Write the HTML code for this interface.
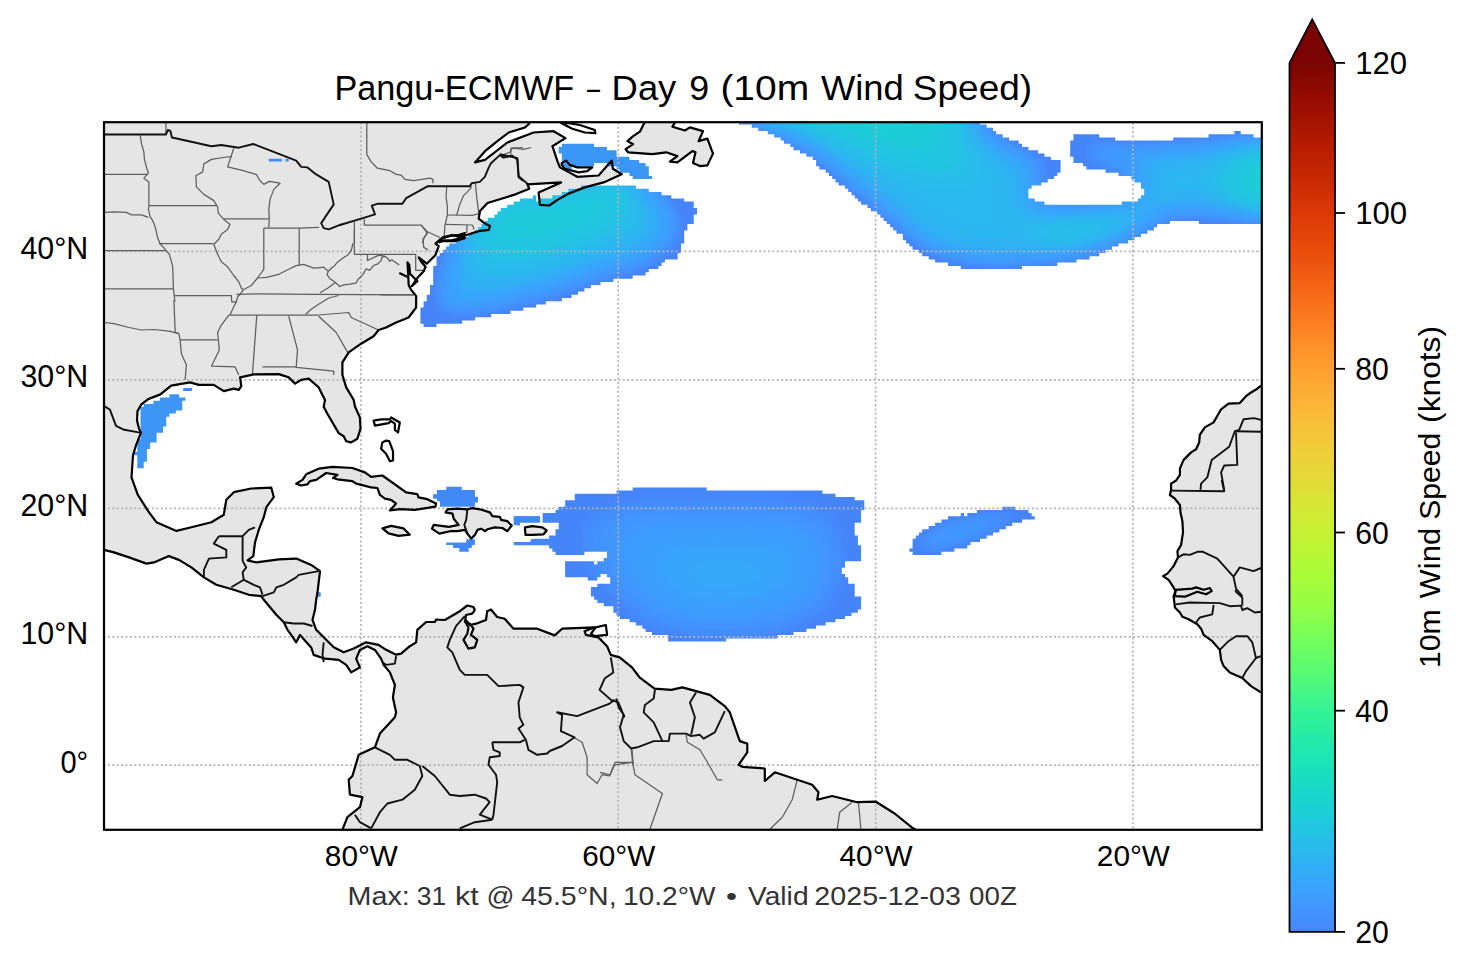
<!DOCTYPE html>
<html><head><meta charset="utf-8"><style>
html,body{margin:0;padding:0;background:#fff;width:1466px;height:969px;overflow:hidden}
svg{display:block}
text{font-family:"Liberation Sans",sans-serif}
</style></head><body>
<svg width="1466" height="969" viewBox="0 0 1466 969">
<defs>
<linearGradient id="cb" gradientUnits="userSpaceOnUse" x1="0" y1="62.9" x2="0" y2="931.9"><stop offset="0.000" stop-color="#7a0403"/><stop offset="0.025" stop-color="#8b0902"/><stop offset="0.050" stop-color="#9b0f01"/><stop offset="0.075" stop-color="#a91601"/><stop offset="0.100" stop-color="#b91e02"/><stop offset="0.125" stop-color="#c52603"/><stop offset="0.150" stop-color="#d02f05"/><stop offset="0.175" stop-color="#dc3b07"/><stop offset="0.200" stop-color="#e4450a"/><stop offset="0.225" stop-color="#eb500e"/><stop offset="0.250" stop-color="#f26014"/><stop offset="0.275" stop-color="#f76f1a"/><stop offset="0.300" stop-color="#fb7e21"/><stop offset="0.325" stop-color="#fe9029"/><stop offset="0.350" stop-color="#fe9e2f"/><stop offset="0.375" stop-color="#fdac34"/><stop offset="0.400" stop-color="#fbb838"/><stop offset="0.425" stop-color="#f5c53a"/><stop offset="0.450" stop-color="#eecf3a"/><stop offset="0.475" stop-color="#e5d938"/><stop offset="0.500" stop-color="#d9e436"/><stop offset="0.525" stop-color="#cdec34"/><stop offset="0.550" stop-color="#c1f334"/><stop offset="0.575" stop-color="#b1f936"/><stop offset="0.600" stop-color="#a4fc3c"/><stop offset="0.625" stop-color="#96fe44"/><stop offset="0.650" stop-color="#80ff53"/><stop offset="0.675" stop-color="#6dfe62"/><stop offset="0.700" stop-color="#59fb73"/><stop offset="0.725" stop-color="#43f787"/><stop offset="0.750" stop-color="#32f298"/><stop offset="0.775" stop-color="#25eca7"/><stop offset="0.800" stop-color="#1ce6b4"/><stop offset="0.825" stop-color="#18ddc2"/><stop offset="0.850" stop-color="#1ad4d0"/><stop offset="0.875" stop-color="#1fc9dd"/><stop offset="0.900" stop-color="#28bceb"/><stop offset="0.925" stop-color="#31aff5"/><stop offset="0.950" stop-color="#3aa3fc"/><stop offset="0.975" stop-color="#4294ff"/><stop offset="1.000" stop-color="#4687fb"/></linearGradient>
<clipPath id="ax"><rect x="103.5" y="122.4" width="1158.2" height="706.9"/></clipPath>
</defs>
<rect width="1466" height="969" fill="#fff"/>
<g clip-path="url(#ax)">
<g fill="#e5e5e5" stroke="none"><polygon points="1270.0,380.0 1261.0,385.6 1257.3,388.7 1251.0,392.5 1246.0,396.2 1239.8,403.1 1228.5,403.7 1221.1,409.3 1213.6,422.4 1204.8,427.4 1199.8,434.9 1199.2,442.4 1196.1,449.3 1191.1,452.4 1183.6,459.9 1179.9,468.6 1179.9,474.9 1176.1,480.5 1171.1,483.6 1171.1,489.8 1169.9,495.0 1174.9,498.7 1179.9,505.0 1180.5,512.5 1182.4,521.2 1183.0,532.4 1181.1,544.9 1177.4,551.2 1178.0,557.4 1173.6,566.1 1167.4,573.6 1163.0,576.1 1168.6,579.9 1173.6,587.4 1175.5,591.1 1173.6,596.1 1174.9,607.5 1179.9,612.5 1182.4,616.8 1188.6,619.3 1197.3,624.3 1201.1,628.7 1203.6,634.9 1212.3,641.2 1219.8,649.9 1221.1,659.9 1223.6,666.1 1229.8,672.4 1242.3,678.0 1251.0,686.1 1261.0,692.4 1270.0,700.0"/><polygon points="100.0,118.0 530.0,118.0 529.9,123.1 524.9,127.5 508.7,132.5 497.4,141.2 485.0,151.2 475.0,162.4 485.0,159.9 507.4,142.5 533.6,132.5 553.6,131.2 565.5,138.1 552.4,146.2 557.4,161.2 559.9,167.4 577.3,176.8 598.6,175.5 611.7,160.6 612.9,168.7 621.7,174.3 603.6,182.4 584.8,187.4 568.6,193.6 557.4,199.9 549.3,205.5 539.9,204.9 538.6,192.4 561.1,182.4 527.4,184.3 529.3,188.7 513.7,194.9 487.5,203.0 480.0,211.1 478.7,218.6 485.0,223.6 490.0,226.1 488.7,229.8 478.7,231.1 460.0,237.3 452.3,235.0 441.1,238.7 439.3,240.6 435.5,243.7 438.7,246.2 435.5,254.9 426.8,263.7 418.7,257.4 421.2,261.8 425.6,266.8 423.7,271.2 417.4,278.0 411.8,286.1 417.4,281.2 410.0,273.7 409.3,264.9 407.5,262.4 408.1,272.4 408.7,284.9 411.2,289.9 416.2,296.1 416.1,307.5 408.6,317.5 396.1,322.5 386.1,327.5 378.6,330.0 373.6,336.2 361.1,343.7 348.7,352.4 342.4,362.4 342.4,374.9 346.2,387.4 353.7,399.9 354.9,406.2 359.9,417.5 360.5,428.7 357.4,438.7 351.2,442.4 346.2,441.2 343.7,436.2 338.7,433.1 327.4,413.7 323.7,406.9 325.0,400.0 318.7,387.4 308.7,378.6 301.2,379.9 295.0,383.6 288.7,377.4 278.8,374.1 253.8,374.4 240.1,377.4 241.3,386.1 238.8,389.9 233.8,388.6 223.8,391.1 213.8,384.9 198.9,384.9 189.9,382.4 171.2,385.6 160.4,394.4 148.2,399.1 141.4,404.4 137.5,411.1 137.0,420.6 139.0,428.6 140.9,432.6 136.2,444.8 133.0,455.3 132.0,470.0 131.5,477.3 137.7,494.7 148.9,512.2 156.4,522.2 176.4,530.9 191.4,527.2 211.4,522.2 223.8,514.7 226.3,499.7 233.8,492.2 251.3,488.5 271.3,487.7 273.8,497.2 266.3,507.2 263.8,517.2 258.8,529.7 255.0,542.4 253.3,556.1 247.6,560.4 256.3,562.4 278.8,559.4 296.2,558.6 311.2,564.9 320.0,571.1 318.7,582.3 317.5,592.3 316.2,599.8 315.0,609.8 312.5,619.8 316.2,629.8 328.7,642.3 333.7,647.3 343.7,652.3 353.7,648.5 366.1,642.3 378.6,644.8 386.1,649.8 396.1,654.7 401.1,653.7 409.8,646.2 416.1,642.4 417.3,629.9 426.1,622.0 434.8,622.0 436.1,619.5 444.8,620.0 459.8,611.2 467.3,605.5 473.5,607.0 474.8,610.0 472.3,613.7 466.0,615.0 465.3,619.5 469.8,625.0 476.0,623.7 486.0,620.0 487.2,611.2 491.0,609.5 497.2,617.0 504.7,618.7 513.5,628.7 537.2,628.7 554.7,635.4 562.1,628.7 594.6,627.4 584.6,631.2 585.9,634.9 598.3,637.4 607.1,646.2 610.8,654.9 619.6,657.4 632.0,667.4 639.5,677.4 654.5,688.6 671.2,689.9 682.4,687.4 709.8,694.9 724.8,706.1 729.8,712.3 739.8,741.1 747.3,743.6 747.3,752.3 738.6,764.8 742.3,766.8 764.8,768.5 764.8,781.0 774.8,772.3 812.2,784.7 818.5,792.2 817.2,799.7 832.2,796.0 857.1,802.2 875.9,801.7 894.6,813.5 912.1,827.7 918.3,830.9 920.0,840.0 340.0,840.0 342.4,829.7 347.4,817.2 359.9,807.2 362.4,797.2 349.9,794.7 348.7,779.7 352.4,776.0 358.7,754.8 374.9,747.3 379.9,733.6 394.9,717.3 396.1,712.3 392.9,697.4 394.9,684.9 389.9,672.4 383.6,664.9 381.1,658.7 374.9,649.9 367.4,646.2 359.9,649.9 356.2,658.7 359.9,667.4 351.2,672.4 346.2,664.9 338.7,659.9 325.0,658.7 313.7,654.9 311.2,647.4 300.0,634.9 296.2,642.3 291.2,634.8 287.5,629.8 283.8,622.3 276.3,614.8 263.8,599.8 261.3,596.1 248.8,594.8 233.8,589.8 216.3,584.8 203.9,577.4 191.4,567.4 178.9,559.9 168.9,556.1 153.9,562.4 146.4,563.6 129.0,557.4 114.0,552.4 104.0,549.9 100.0,550.0"/><polygon points="644.9,121.7 639.9,131.7 632.5,136.7 627.5,141.1 633.1,144.2 625.6,149.2 628.1,152.3 652.4,154.2 666.2,152.3 677.4,156.1 669.9,161.7 677.4,162.3 692.4,151.1 695.5,152.3 693.0,162.9 699.9,166.1 707.4,165.4 713.0,153.6 707.4,138.6 698.6,141.1 703.0,131.1 689.9,127.4 684.9,130.5 672.4,126.7 675.5,121.7"/><polygon points="382.4,528.4 391.1,525.9 403.6,528.4 409.8,534.7 398.6,535.9 388.6,533.4"/><polygon points="296.2,483.6 302.5,479.9 306.2,474.3 318.7,468.7 332.4,466.8 352.4,468.0 364.9,472.4 371.1,476.8 382.4,475.5 406.1,492.4 417.3,494.2 418.6,497.4 427.3,499.2 436.1,503.6 435.4,506.7 414.8,509.8 399.8,509.2 389.9,510.5 396.1,503.6 391.1,499.9 384.9,498.6 379.9,494.9 377.4,488.0 371.1,487.4 356.2,483.6 352.4,481.1 337.4,479.3 333.1,478.0 337.4,474.9 326.2,473.0 316.2,479.9 310.0,481.1 307.5,484.3 301.2,485.5"/><polygon points="445.6,512.4 447.5,509.3 457.4,508.7 467.4,509.3 472.4,508.1 479.9,509.3 489.9,512.4 492.4,516.2 499.9,516.8 501.1,519.9 507.4,521.2 511.7,525.5 507.4,531.2 502.4,528.0 494.9,527.4 487.4,529.3 484.9,531.2 481.2,528.7 477.4,529.9 474.9,534.9 471.2,538.6 467.4,533.6 464.9,529.9 457.4,531.2 450.0,531.2 439.3,533.6 431.9,528.7 433.7,524.9 448.7,526.8 458.7,524.9 453.7,518.7 452.5,513.7"/><polygon points="524.9,527.4 532.3,526.2 542.3,527.4 546.7,530.5 543.6,534.3 532.3,534.9 525.5,534.9"/></g><defs><filter id="bl" x="-50%" y="-50%" width="200%" height="200%"><feGaussianBlur stdDeviation="28"/></filter><filter id="bl2" x="-50%" y="-50%" width="200%" height="200%"><feGaussianBlur stdDeviation="14"/></filter><clipPath id="c_ne"><path fill-rule="evenodd" clip-rule="evenodd" d="M436.5,265.9 L433.2,265.9 L433.2,285.1 L430.0,285.1 L430.0,294.8 L426.8,294.8 L426.8,301.2 L423.6,301.2 L423.6,307.6 L420.4,307.6 L420.4,323.7 L423.6,323.7 L423.6,326.9 L436.5,326.9 L436.5,323.7 L462.2,323.7 L462.2,320.4 L475.1,320.4 L475.1,317.2 L491.1,317.2 L491.1,314.0 L510.5,314.0 L510.5,310.8 L523.3,310.8 L523.3,307.6 L536.2,307.6 L536.2,304.4 L545.8,304.4 L545.8,301.2 L561.9,301.2 L561.9,298.0 L571.6,298.0 L571.6,294.8 L578.0,294.8 L578.0,291.5 L584.4,291.5 L584.4,288.3 L590.9,288.3 L590.9,285.1 L600.5,285.1 L600.5,281.9 L613.4,281.9 L613.4,278.7 L632.7,278.7 L632.7,275.5 L645.6,275.5 L645.6,272.3 L648.8,272.3 L648.8,269.1 L658.4,269.1 L658.4,265.9 L661.6,265.9 L661.6,262.6 L664.9,262.6 L664.9,259.4 L677.7,259.4 L677.7,253.0 L681.0,253.0 L681.0,243.4 L684.2,243.4 L684.2,230.5 L687.4,230.5 L687.4,224.1 L693.8,224.1 L693.8,214.5 L697.0,214.5 L697.0,208.0 L693.8,208.0 L693.8,201.6 L684.2,201.6 L684.2,198.4 L671.3,198.4 L671.3,195.2 L661.6,195.2 L661.6,192.0 L648.8,192.0 L648.8,188.8 L635.9,188.8 L635.9,185.6 L581.2,185.6 L581.2,188.8 L568.4,188.8 L568.4,192.0 L561.9,192.0 L561.9,195.2 L552.3,195.2 L552.3,198.4 L539.4,198.4 L539.4,201.6 L536.2,201.6 L536.2,195.2 L533.0,195.2 L533.0,198.4 L520.1,198.4 L520.1,201.6 L513.7,201.6 L513.7,204.8 L507.2,204.8 L507.2,208.0 L500.8,208.0 L500.8,211.3 L497.6,211.3 L497.6,214.5 L494.4,214.5 L494.4,217.7 L487.9,217.7 L487.9,220.9 L484.7,220.9 L484.7,224.1 L481.5,224.1 L481.5,227.3 L478.3,227.3 L478.3,230.5 L475.1,230.5 L475.1,233.7 L468.6,233.7 L468.6,236.9 L462.2,236.9 L462.2,240.2 L455.8,240.2 L455.8,243.4 L449.3,243.4 L449.3,246.6 L446.1,246.6 L446.1,249.8 L442.9,249.8 L442.9,253.0 L439.7,253.0 L439.7,256.2 L436.5,256.2Z"/></clipPath><clipPath id="c_tr"><path fill-rule="evenodd" clip-rule="evenodd" d="M738.9,102.1 L738.9,124.6 L751.7,124.6 L751.7,127.8 L758.2,127.8 L758.2,131.0 L767.8,131.0 L767.8,134.2 L774.2,134.2 L774.2,137.4 L780.7,137.4 L780.7,140.6 L783.9,140.6 L783.9,143.8 L790.3,143.8 L790.3,147.0 L793.5,147.0 L793.5,150.2 L800.0,150.2 L800.0,153.5 L806.4,153.5 L806.4,156.7 L812.8,156.7 L812.8,159.9 L816.1,159.9 L816.1,166.3 L819.3,166.3 L819.3,169.5 L825.7,169.5 L825.7,172.7 L828.9,172.7 L828.9,175.9 L832.2,175.9 L832.2,179.1 L835.4,179.1 L835.4,182.4 L838.6,182.4 L838.6,185.6 L845.0,185.6 L845.0,188.8 L848.2,188.8 L848.2,192.0 L851.5,192.0 L851.5,195.2 L854.7,195.2 L854.7,198.4 L857.9,198.4 L857.9,201.6 L861.1,201.6 L861.1,204.8 L867.5,204.8 L867.5,208.0 L870.8,208.0 L870.8,211.3 L877.2,211.3 L877.2,214.5 L880.4,214.5 L880.4,217.7 L883.6,217.7 L883.6,220.9 L886.8,220.9 L886.8,224.1 L890.1,224.1 L890.1,227.3 L893.3,227.3 L893.3,230.5 L896.5,230.5 L896.5,233.7 L902.9,233.7 L902.9,240.2 L906.1,240.2 L906.1,243.4 L909.4,243.4 L909.4,246.6 L912.6,246.6 L912.6,249.8 L919.0,249.8 L919.0,253.0 L922.2,253.0 L922.2,256.2 L928.7,256.2 L928.7,259.4 L935.1,259.4 L935.1,262.6 L948.0,262.6 L948.0,265.9 L960.8,265.9 L960.8,269.1 L1022.0,269.1 L1022.0,265.9 L1057.3,265.9 L1057.3,262.6 L1076.6,262.6 L1076.6,259.4 L1089.5,259.4 L1089.5,256.2 L1099.2,256.2 L1099.2,253.0 L1105.6,253.0 L1105.6,249.8 L1112.0,249.8 L1112.0,246.6 L1118.5,246.6 L1118.5,243.4 L1128.1,243.4 L1128.1,240.2 L1134.5,240.2 L1134.5,236.9 L1141.0,236.9 L1141.0,233.7 L1147.4,233.7 L1147.4,230.5 L1153.9,230.5 L1153.9,227.3 L1157.1,227.3 L1157.1,224.1 L1169.9,224.1 L1169.9,220.9 L1198.9,220.9 L1198.9,224.1 L1266.4,224.1 L1266.4,137.4 L1253.6,137.4 L1253.6,134.2 L1240.7,134.2 L1240.7,131.0 L1234.3,131.0 L1234.3,134.2 L1208.5,134.2 L1208.5,137.4 L1173.2,137.4 L1173.2,140.6 L1115.2,140.6 L1115.2,137.4 L1099.2,137.4 L1099.2,134.2 L1073.4,134.2 L1073.4,140.6 L1070.2,140.6 L1070.2,156.7 L1073.4,156.7 L1073.4,163.1 L1083.1,163.1 L1083.1,166.3 L1086.3,166.3 L1086.3,169.5 L1105.6,169.5 L1105.6,172.7 L1118.5,172.7 L1118.5,175.9 L1131.3,175.9 L1131.3,179.1 L1134.5,179.1 L1134.5,182.4 L1141.0,182.4 L1141.0,188.8 L1144.2,188.8 L1144.2,195.2 L1141.0,195.2 L1141.0,198.4 L1137.8,198.4 L1137.8,201.6 L1121.7,201.6 L1121.7,204.8 L1044.5,204.8 L1044.5,201.6 L1034.8,201.6 L1034.8,198.4 L1028.4,198.4 L1028.4,188.8 L1031.6,188.8 L1031.6,185.6 L1041.3,185.6 L1041.3,182.4 L1047.7,182.4 L1047.7,179.1 L1054.1,179.1 L1054.1,175.9 L1057.3,175.9 L1057.3,172.7 L1060.6,172.7 L1060.6,159.9 L1050.9,159.9 L1050.9,156.7 L1044.5,156.7 L1044.5,153.5 L1038.0,153.5 L1038.0,150.2 L1028.4,150.2 L1028.4,147.0 L1022.0,147.0 L1022.0,143.8 L1018.7,143.8 L1018.7,140.6 L1009.1,140.6 L1009.1,137.4 L1002.7,137.4 L1002.7,134.2 L996.2,134.2 L996.2,131.0 L993.0,131.0 L993.0,127.8 L986.6,127.8 L986.6,124.6 L980.1,124.6 L980.1,121.3 L976.9,121.3 L976.9,102.1Z"/></clipPath><clipPath id="c_car"><path fill-rule="evenodd" clip-rule="evenodd" d="M558.7,509.9 L555.5,509.9 L555.5,513.1 L542.6,513.1 L542.6,522.8 L558.7,522.8 L558.7,529.2 L555.5,529.2 L555.5,535.6 L549.1,535.6 L549.1,538.8 L533.0,538.8 L533.0,542.0 L513.7,542.0 L513.7,545.2 L549.1,545.2 L549.1,548.4 L552.3,548.4 L552.3,551.7 L555.5,551.7 L555.5,554.9 L584.4,554.9 L584.4,551.7 L607.0,551.7 L607.0,558.1 L603.7,558.1 L603.7,561.3 L597.3,561.3 L597.3,564.5 L594.1,564.5 L594.1,561.3 L565.1,561.3 L565.1,577.3 L587.7,577.3 L587.7,580.6 L597.3,580.6 L597.3,577.3 L600.5,577.3 L600.5,574.1 L607.0,574.1 L607.0,577.3 L610.2,577.3 L610.2,583.8 L597.3,583.8 L597.3,587.0 L590.9,587.0 L590.9,596.6 L594.1,596.6 L594.1,599.8 L597.3,599.8 L597.3,603.0 L603.7,603.0 L603.7,606.2 L613.4,606.2 L613.4,612.7 L616.6,612.7 L616.6,615.9 L619.8,615.9 L619.8,619.1 L629.5,619.1 L629.5,622.3 L635.9,622.3 L635.9,625.5 L642.3,625.5 L642.3,628.7 L645.6,628.7 L645.6,631.9 L652.0,631.9 L652.0,635.1 L668.1,635.1 L668.1,641.6 L726.0,641.6 L726.0,638.4 L777.5,638.4 L777.5,635.1 L793.5,635.1 L793.5,631.9 L806.4,631.9 L806.4,628.7 L816.1,628.7 L816.1,625.5 L825.7,625.5 L825.7,622.3 L835.4,622.3 L835.4,619.1 L845.0,619.1 L845.0,615.9 L851.5,615.9 L851.5,612.7 L857.9,612.7 L857.9,609.5 L861.1,609.5 L861.1,596.6 L854.7,596.6 L854.7,583.8 L848.2,583.8 L848.2,577.3 L845.0,577.3 L845.0,574.1 L841.8,574.1 L841.8,567.7 L845.0,567.7 L845.0,561.3 L861.1,561.3 L861.1,545.2 L857.9,545.2 L857.9,535.6 L854.7,535.6 L854.7,522.8 L861.1,522.8 L861.1,509.9 L864.3,509.9 L864.3,500.3 L854.7,500.3 L854.7,497.1 L835.4,497.1 L835.4,493.8 L822.5,493.8 L822.5,490.6 L706.7,490.6 L706.7,487.4 L632.7,487.4 L632.7,490.6 L616.6,490.6 L616.6,493.8 L574.8,493.8 L574.8,500.3 L565.1,500.3 L565.1,506.7 L558.7,506.7Z"/></clipPath><clipPath id="c_car2"><polygon points="513.7,516.2 539.9,516.2 539.9,522.4 520.0,522.4 520.0,524.9 513.7,524.9"/></clipPath><clipPath id="c_hn"><polygon points="433.1,494.3 436.9,494.3 436.9,490.0 446.2,490.0 446.2,486.8 461.8,486.8 461.8,490.0 474.9,490.0 474.9,496.8 478.0,496.8 478.0,502.4 474.9,502.4 474.9,506.8 440.0,506.8 440.0,501.2 436.9,501.2 436.9,498.7 433.1,498.7"/></clipPath><clipPath id="c_hs"><polygon points="446.2,542.4 466.2,542.4 466.2,539.3 474.9,539.3 474.9,544.9 471.8,544.9 471.8,548.0 468.7,548.0 468.7,551.7 459.3,551.7 459.3,548.0 453.1,548.0 453.1,544.9 446.2,544.9"/></clipPath><clipPath id="c_he"><polygon points="514.2,516.2 539.8,516.2 539.8,522.4 519.9,522.4 519.9,525.5 517.4,525.5 517.4,522.4 514.2,522.4"/></clipPath><clipPath id="c_hl"><polygon points="514.2,542.4 530.5,542.4 530.5,539.3 539.8,539.3 539.8,542.4 544.8,542.4 544.8,544.9 514.2,544.9"/></clipPath><clipPath id="c_mid"><path fill-rule="evenodd" clip-rule="evenodd" d="M919.0,535.6 L915.8,535.6 L915.8,538.8 L912.6,538.8 L912.6,548.4 L909.4,548.4 L909.4,551.7 L912.6,551.7 L912.6,554.9 L941.5,554.9 L941.5,551.7 L954.4,551.7 L954.4,548.4 L967.3,548.4 L967.3,545.2 L970.5,545.2 L970.5,542.0 L980.1,542.0 L980.1,538.8 L986.6,538.8 L986.6,535.6 L993.0,535.6 L993.0,532.4 L999.4,532.4 L999.4,529.2 L1005.9,529.2 L1005.9,526.0 L1012.3,526.0 L1012.3,522.8 L1022.0,522.8 L1022.0,519.5 L1034.8,519.5 L1034.8,516.3 L1031.6,516.3 L1031.6,513.1 L1028.4,513.1 L1028.4,509.9 L1015.5,509.9 L1015.5,506.7 L1002.7,506.7 L1002.7,509.9 L976.9,509.9 L976.9,513.1 L967.3,513.1 L967.3,516.3 L964.0,516.3 L964.0,513.1 L960.8,513.1 L960.8,516.3 L948.0,516.3 L948.0,519.5 L941.5,519.5 L941.5,522.8 L935.1,522.8 L935.1,526.0 L928.7,526.0 L928.7,529.2 L922.2,529.2 L922.2,532.4 L919.0,532.4Z"/></clipPath><clipPath id="c_gulf"><path fill-rule="evenodd" clip-rule="evenodd" d="M140.5,439.3 L137.3,439.3 L137.3,452.1 L134.1,452.1 L134.1,455.3 L137.3,455.3 L137.3,468.2 L143.7,468.2 L143.7,461.7 L146.9,461.7 L146.9,448.9 L150.1,448.9 L150.1,442.5 L156.6,442.5 L156.6,432.8 L163.0,432.8 L163.0,426.4 L166.2,426.4 L166.2,416.8 L169.4,416.8 L169.4,413.6 L175.9,413.6 L175.9,410.4 L182.3,410.4 L182.3,400.7 L185.5,400.7 L185.5,397.5 L179.1,397.5 L179.1,394.3 L169.4,394.3 L169.4,397.5 L159.8,397.5 L159.8,400.7 L153.4,400.7 L153.4,403.9 L143.7,403.9 L143.7,407.1 L140.5,407.1Z"/></clipPath><clipPath id="c_gulfdash"><polygon points="183.2,388.0 192.0,388.0 192.0,391.0 183.2,391.0"/></clipPath><clipPath id="c_sl"><path fill-rule="evenodd" clip-rule="evenodd" d="M561.9,143.8 L561.9,147.0 L558.7,147.0 L558.7,153.5 L561.9,153.5 L561.9,166.3 L565.1,166.3 L565.1,169.5 L571.6,169.5 L571.6,166.3 L594.1,166.3 L594.1,163.1 L607.0,163.1 L607.0,166.3 L616.6,166.3 L616.6,169.5 L619.8,169.5 L619.8,172.7 L629.5,172.7 L629.5,175.9 L632.7,175.9 L632.7,179.1 L652.0,179.1 L652.0,175.9 L648.8,175.9 L648.8,166.3 L645.6,166.3 L645.6,163.1 L639.1,163.1 L639.1,159.9 L629.5,159.9 L629.5,156.7 L616.6,156.7 L616.6,150.2 L607.0,150.2 L607.0,147.0 L594.1,147.0 L594.1,143.8Z"/></clipPath><clipPath id="c_sup"><polygon points="268.8,158.7 281.8,158.7 281.8,161.4 268.8,161.4"/></clipPath><clipPath id="c_sup2"><polygon points="285.5,158.7 288.7,158.7 288.7,161.4 285.5,161.4"/></clipPath><clipPath id="c_nic"><polygon points="318.0,592.3 320.7,592.3 320.7,596.8 318.0,596.8"/></clipPath><clipPath id="c_ne2"><polygon points="633.0,122.0 652.0,122.0 652.0,125.0 633.0,125.0"/></clipPath><filter id="f_ne" filterUnits="userSpaceOnUse" x="0" y="0" width="1466" height="969" color-interpolation-filters="sRGB"><feGaussianBlur in="SourceAlpha" stdDeviation="22"/><feColorMatrix type="matrix" values="0 0 0 1 0  0 0 0 1 0  0 0 0 1 0  0 0 0 0 1"/><feComponentTransfer><feFuncR type="table" tableValues="0.274 0.274 0.274 0.274 0.274 0.274 0.274 0.274 0.274 0.274 0.274 0.274 0.274 0.274 0.274 0.274 0.274 0.274 0.273 0.269 0.266 0.263 0.254 0.249 0.244 0.239 0.233 0.227 0.220 0.214 0.207 0.193 0.186 0.179 0.172 0.165 0.158 0.152 0.145 0.139 0.133 0.133 0.127 0.122 0.116 0.112 0.107 0.104 0.100"/><feFuncG type="table" tableValues="0.521 0.521 0.521 0.521 0.521 0.521 0.521 0.521 0.521 0.521 0.521 0.521 0.521 0.521 0.521 0.521 0.521 0.521 0.530 0.550 0.560 0.570 0.590 0.599 0.609 0.619 0.629 0.639 0.649 0.659 0.669 0.688 0.698 0.707 0.717 0.726 0.736 0.745 0.754 0.763 0.772 0.772 0.780 0.789 0.797 0.806 0.814 0.822 0.830"/><feFuncB type="table" tableValues="0.979 0.979 0.979 0.979 0.979 0.979 0.979 0.979 0.979 0.979 0.979 0.979 0.979 0.979 0.979 0.979 0.979 0.979 0.985 0.993 0.996 0.998 0.999 0.998 0.997 0.995 0.992 0.989 0.984 0.980 0.974 0.962 0.955 0.948 0.940 0.932 0.923 0.914 0.905 0.895 0.886 0.886 0.876 0.866 0.856 0.845 0.835 0.824 0.814"/></feComponentTransfer></filter><filter id="f_tr" filterUnits="userSpaceOnUse" x="0" y="0" width="1466" height="969" color-interpolation-filters="sRGB"><feGaussianBlur in="SourceAlpha" stdDeviation="18"/><feColorMatrix type="matrix" values="0 0 0 1 0  0 0 0 1 0  0 0 0 1 0  0 0 0 0 1"/><feComponentTransfer><feFuncR type="table" tableValues="0.274 0.274 0.274 0.274 0.274 0.274 0.274 0.274 0.274 0.274 0.274 0.274 0.274 0.274 0.274 0.274 0.274 0.274 0.273 0.269 0.266 0.263 0.254 0.249 0.244 0.239 0.233 0.227 0.220 0.214 0.207 0.193 0.186 0.179 0.172 0.165 0.158 0.152 0.145 0.139 0.133 0.133 0.127 0.122 0.116 0.112 0.107 0.104 0.100"/><feFuncG type="table" tableValues="0.521 0.521 0.521 0.521 0.521 0.521 0.521 0.521 0.521 0.521 0.521 0.521 0.521 0.521 0.521 0.521 0.521 0.521 0.530 0.550 0.560 0.570 0.590 0.599 0.609 0.619 0.629 0.639 0.649 0.659 0.669 0.688 0.698 0.707 0.717 0.726 0.736 0.745 0.754 0.763 0.772 0.772 0.780 0.789 0.797 0.806 0.814 0.822 0.830"/><feFuncB type="table" tableValues="0.979 0.979 0.979 0.979 0.979 0.979 0.979 0.979 0.979 0.979 0.979 0.979 0.979 0.979 0.979 0.979 0.979 0.979 0.985 0.993 0.996 0.998 0.999 0.998 0.997 0.995 0.992 0.989 0.984 0.980 0.974 0.962 0.955 0.948 0.940 0.932 0.923 0.914 0.905 0.895 0.886 0.886 0.876 0.866 0.856 0.845 0.835 0.824 0.814"/></feComponentTransfer></filter><filter id="f_car" filterUnits="userSpaceOnUse" x="0" y="0" width="1466" height="969" color-interpolation-filters="sRGB"><feGaussianBlur in="SourceAlpha" stdDeviation="35"/><feColorMatrix type="matrix" values="0 0 0 1 0  0 0 0 1 0  0 0 0 1 0  0 0 0 0 1"/><feComponentTransfer><feFuncR type="table" tableValues="0.274 0.274 0.274 0.274 0.274 0.274 0.274 0.274 0.274 0.274 0.274 0.274 0.274 0.274 0.274 0.274 0.274 0.274 0.274 0.274 0.274 0.273 0.273 0.271 0.269 0.266 0.266 0.263 0.259 0.259 0.254 0.254 0.249 0.244 0.244 0.239 0.239 0.233 0.233 0.227 0.220 0.220 0.214 0.214 0.207 0.207 0.200 0.200 0.193"/><feFuncG type="table" tableValues="0.521 0.521 0.521 0.521 0.521 0.521 0.521 0.521 0.521 0.521 0.521 0.521 0.521 0.521 0.521 0.521 0.521 0.521 0.521 0.521 0.521 0.530 0.530 0.540 0.550 0.560 0.560 0.570 0.580 0.580 0.590 0.590 0.599 0.609 0.609 0.619 0.619 0.629 0.629 0.639 0.649 0.649 0.659 0.659 0.669 0.669 0.678 0.678 0.688"/><feFuncB type="table" tableValues="0.979 0.979 0.979 0.979 0.979 0.979 0.979 0.979 0.979 0.979 0.979 0.979 0.979 0.979 0.979 0.979 0.979 0.979 0.979 0.979 0.979 0.985 0.985 0.989 0.993 0.996 0.996 0.998 0.999 0.999 0.999 0.999 0.998 0.997 0.997 0.995 0.995 0.992 0.992 0.989 0.984 0.984 0.980 0.980 0.974 0.974 0.968 0.968 0.962"/></feComponentTransfer></filter><filter id="f_mid" filterUnits="userSpaceOnUse" x="0" y="0" width="1466" height="969" color-interpolation-filters="sRGB"><feGaussianBlur in="SourceAlpha" stdDeviation="10"/><feColorMatrix type="matrix" values="0 0 0 1 0  0 0 0 1 0  0 0 0 1 0  0 0 0 0 1"/><feComponentTransfer><feFuncR type="table" tableValues="0.274 0.274 0.274 0.274 0.274 0.274 0.274 0.274 0.274 0.274 0.274 0.274 0.274 0.274 0.274 0.274 0.274 0.274 0.274 0.274 0.274 0.274 0.274 0.274 0.274 0.274 0.273 0.273 0.271 0.271 0.269 0.269 0.269 0.266 0.266 0.263 0.263 0.263 0.259 0.259 0.259 0.254 0.254 0.254 0.249 0.249 0.244 0.244 0.244"/><feFuncG type="table" tableValues="0.521 0.521 0.521 0.521 0.521 0.521 0.521 0.521 0.521 0.521 0.521 0.521 0.521 0.521 0.521 0.521 0.521 0.521 0.521 0.521 0.521 0.521 0.521 0.521 0.521 0.521 0.530 0.530 0.540 0.540 0.550 0.550 0.550 0.560 0.560 0.570 0.570 0.570 0.580 0.580 0.580 0.590 0.590 0.590 0.599 0.599 0.609 0.609 0.609"/><feFuncB type="table" tableValues="0.979 0.979 0.979 0.979 0.979 0.979 0.979 0.979 0.979 0.979 0.979 0.979 0.979 0.979 0.979 0.979 0.979 0.979 0.979 0.979 0.979 0.979 0.979 0.979 0.979 0.979 0.985 0.985 0.989 0.989 0.993 0.993 0.993 0.996 0.996 0.998 0.998 0.998 0.999 0.999 0.999 0.999 0.999 0.999 0.998 0.998 0.997 0.997 0.997"/></feComponentTransfer></filter></defs><g clip-path="url(#c_ne)"><g filter="url(#f_ne)"><polygon points="635.1,185.2 637.1,188.3 648.4,188.3 648.4,191.4 661.7,191.4 661.7,195.5 670.9,195.5 670.9,198.5 684.2,198.5 684.2,201.6 693.4,201.6 693.4,205.7 696.5,207.7 696.5,215.9 693.4,215.9 693.4,223.1 687.3,224.1 687.3,230.3 684.2,232.3 684.2,240.5 682.2,244.6 682.2,251.7 678.1,252.8 678.1,257.9 664.8,258.9 664.8,263.0 658.6,265.0 658.6,269.1 646.4,271.2 646.4,274.2 633.1,275.3 633.1,278.3 614.6,278.3 614.6,281.4 601.3,281.4 601.3,285.5 590.1,285.5 590.1,289.6 577.8,290.6 577.8,293.7 571.7,293.7 571.7,297.8 561.4,297.8 561.4,300.9 547.1,301.9 547.1,304.9 534.8,304.9 534.8,308.0 522.6,308.0 522.6,311.1 510.3,311.1 510.3,314.2 490.8,314.2 490.8,317.2 475.5,317.2 475.5,320.3 462.2,320.3 462.2,323.4 436.6,323.4 436.6,325.4 424.3,325.4 421.3,322.3 421.3,310.1 424.3,301.9 427.4,297.8 430.5,287.6 433.5,281.4 433.5,269.1 436.6,265.0 436.6,256.9 439.7,255.8 443.8,250.7 446.8,247.6 449.9,243.6 440.0,215.0 480.0,170.0 515.0,150.0 524.0,196.0 524.6,198.5 536.9,195.5 537.9,200.6 549.2,198.5 565.5,191.4 579.8,187.3 598.3,185.2" fill="#000" fill-opacity="0.7"/><ellipse cx="560" cy="208" rx="95" ry="30" transform="rotate(-20 560 208)" fill="#000"/></g></g><g clip-path="url(#c_tr)"><g filter="url(#f_tr)"><polygon points="737.5,121.0 739.2,122.9 752.0,126.7 768.4,133.3 781.2,140.0 797.5,150.2 810.3,156.4 819.0,166.6 829.3,175.3 842.0,185.5 852.5,194.0 864.0,204.5 874.3,211.0 883.2,219.2 892.8,228.8 900.0,233.6 908.8,244.8 916.8,250.4 926.4,257.6 936.0,260.8 945.6,264.0 964.8,268.0 993.6,270.4 1021.0,269.7 1022.1,270.9 1022.1,267.2 1050.6,265.3 1070.0,262.6 1082.9,258.9 1093.0,257.1 1102.2,252.4 1114.2,246.9 1121.6,243.2 1134.4,239.6 1140.9,235.0 1147.3,232.2 1153.8,228.5 1156.5,224.8 1169.4,223.9 1169.4,219.3 1198.9,219.3 1198.9,223.0 1265.2,223.0 1265.2,136.4 1254.2,136.4 1254.2,133.7 1241.3,133.7 1241.3,130.0 1233.9,130.0 1233.9,133.7 1209.0,133.7 1209.0,137.3 1173.1,137.3 1173.1,140.1 1115.1,140.1 1115.1,137.3 1099.5,137.3 1099.5,133.7 1072.7,133.7 1072.7,138.3 1070.0,141.9 1070.0,153.9 1072.7,155.8 1072.7,162.2 1079.2,162.2 1084.7,165.0 1085.6,167.7 1099.5,169.6 1112.3,172.3 1121.6,175.1 1131.7,177.9 1137.2,181.5 1140.9,185.2 1143.7,191.7 1140.9,197.2 1135.4,200.9 1122.5,200.9 1122.5,203.6 1093.9,203.6 1093.0,206.4 1067.2,206.4 1045.1,203.6 1035.0,200.9 1027.6,197.2 1027.6,188.9 1035.0,186.1 1047.9,181.5 1053.4,176.9 1060.8,173.3 1060.8,160.4 1054.3,159.4 1047.9,155.8 1040.5,153.0 1032.2,150.2 1022.1,145.6 1015.7,141.0 1003.7,137.3 1000.0,133.7 1002.1,135.5 989.6,128.0 977.2,121.7 977.2,103.0 737.5,103.0" fill="#000" fill-opacity="0.72"/><rect x="737" y="40" width="240" height="84" fill="#000" fill-opacity="0.95"/><rect x="1256" y="137" width="150" height="86" fill="#000"/><ellipse cx="870" cy="128" rx="110" ry="16" transform="rotate(20 870 128)" fill="#000"/><ellipse cx="1095" cy="223" rx="62" ry="15" transform="rotate(-10 1095 223)" fill="#000"/><ellipse cx="1262" cy="180" rx="32" ry="30" fill="#000"/></g></g><g clip-path="url(#c_car)"><g filter="url(#f_car)"><polygon points="574.9,494.2 617.3,494.2 617.3,490.0 633.6,490.0 633.6,487.5 707.2,487.5 707.2,490.0 822.1,490.0 822.1,494.2 834.5,494.2 834.5,496.7 854.5,496.7 854.5,500.0 863.3,500.0 863.3,508.7 860.8,508.7 860.8,522.4 854.5,522.4 854.5,536.2 858.3,536.2 858.3,544.9 860.8,544.9 860.8,559.9 845.8,559.9 844.5,564.9 842.0,572.4 845.8,577.4 849.5,583.6 854.5,583.6 854.5,597.3 860.8,597.3 863.3,607.3 849.5,616.1 838.8,619.8 824.6,624.8 812.6,628.5 790.9,634.8 778.4,636.8 725.9,639.3 725.9,641.0 668.5,641.0 667.3,636.0 652.3,633.5 639.8,626.0 632.3,622.3 619.8,617.3 614.8,613.6 614.8,606.1 604.9,604.8 594.9,601.1 591.1,593.6 592.4,586.1 601.1,584.8 602.4,583.6 609.8,583.6 609.8,576.1 599.9,574.9 597.4,579.8 566.2,577.4 564.9,562.4 574.9,561.1 587.4,561.1 594.9,563.6 607.4,557.4 606.1,552.4 587.4,552.4 572.4,556.1 566.2,556.1 552.4,552.4 552.4,547.4 543.7,544.9 539.9,543.6 513.7,543.6 513.7,541.2 543.7,539.9 556.2,533.7 557.4,527.4 559.9,522.4 543.7,522.4 543.7,513.7 558.7,511.2 559.9,507.4 566.2,507.4 566.2,500.0 574.9,498.7" fill="#000" fill-opacity="0.78"/><ellipse cx="725" cy="592" rx="95" ry="32" fill="#000"/></g></g><g clip-path="url(#c_mid)"><g filter="url(#f_mid)"><polygon points="909.3,548.3 913.4,548.3 913.4,539.1 916.5,536.0 919.6,532.0 926.2,528.9 932.3,525.8 938.5,522.7 945.1,519.2 951.3,516.1 961.0,516.1 961.0,513.0 964.1,513.0 964.1,516.1 967.1,516.1 967.1,513.0 976.9,513.0 976.9,510.0 1002.9,510.0 1002.9,506.9 1015.7,506.9 1015.7,510.0 1028.0,510.0 1028.0,513.0 1032.1,513.0 1032.1,516.1 1035.2,516.1 1035.2,518.6 1021.9,519.2 1021.9,522.7 1011.6,523.3 1011.6,525.8 1006.0,525.8 1005.5,528.9 998.9,529.4 998.9,532.0 992.7,532.5 992.7,536.0 987.1,536.6 987.1,539.1 979.9,539.1 979.9,541.7 970.7,542.2 970.7,544.7 967.1,545.3 967.1,547.8 953.8,548.3 953.8,551.4 942.1,551.4 942.1,554.5 913.4,554.5 913.4,551.4 909.3,551.4" fill="#000"/></g></g><polygon points="513.7,516.2 539.9,516.2 539.9,522.4 520.0,522.4 520.0,524.9 513.7,524.9" fill="#4189f6"/><polygon points="433.1,494.3 436.9,494.3 436.9,490.0 446.2,490.0 446.2,486.8 461.8,486.8 461.8,490.0 474.9,490.0 474.9,496.8 478.0,496.8 478.0,502.4 474.9,502.4 474.9,506.8 440.0,506.8 440.0,501.2 436.9,501.2 436.9,498.7 433.1,498.7" fill="#4189f6"/><polygon points="446.2,542.4 466.2,542.4 466.2,539.3 474.9,539.3 474.9,544.9 471.8,544.9 471.8,548.0 468.7,548.0 468.7,551.7 459.3,551.7 459.3,548.0 453.1,548.0 453.1,544.9 446.2,544.9" fill="#4189f6"/><polygon points="514.2,516.2 539.8,516.2 539.8,522.4 519.9,522.4 519.9,525.5 517.4,525.5 517.4,522.4 514.2,522.4" fill="#4189f6"/><polygon points="514.2,542.4 530.5,542.4 530.5,539.3 539.8,539.3 539.8,542.4 544.8,542.4 544.8,544.9 514.2,544.9" fill="#4189f6"/><path fill-rule="evenodd" d="M140.5,439.3 L137.3,439.3 L137.3,452.1 L134.1,452.1 L134.1,455.3 L137.3,455.3 L137.3,468.2 L143.7,468.2 L143.7,461.7 L146.9,461.7 L146.9,448.9 L150.1,448.9 L150.1,442.5 L156.6,442.5 L156.6,432.8 L163.0,432.8 L163.0,426.4 L166.2,426.4 L166.2,416.8 L169.4,416.8 L169.4,413.6 L175.9,413.6 L175.9,410.4 L182.3,410.4 L182.3,400.7 L185.5,400.7 L185.5,397.5 L179.1,397.5 L179.1,394.3 L169.4,394.3 L169.4,397.5 L159.8,397.5 L159.8,400.7 L153.4,400.7 L153.4,403.9 L143.7,403.9 L143.7,407.1 L140.5,407.1Z" fill="#3d96f5"/><polygon points="183.2,388.0 192.0,388.0 192.0,391.0 183.2,391.0" fill="#4189f6"/><path fill-rule="evenodd" d="M561.9,143.8 L561.9,147.0 L558.7,147.0 L558.7,153.5 L561.9,153.5 L561.9,166.3 L565.1,166.3 L565.1,169.5 L571.6,169.5 L571.6,166.3 L594.1,166.3 L594.1,163.1 L607.0,163.1 L607.0,166.3 L616.6,166.3 L616.6,169.5 L619.8,169.5 L619.8,172.7 L629.5,172.7 L629.5,175.9 L632.7,175.9 L632.7,179.1 L652.0,179.1 L652.0,175.9 L648.8,175.9 L648.8,166.3 L645.6,166.3 L645.6,163.1 L639.1,163.1 L639.1,159.9 L629.5,159.9 L629.5,156.7 L616.6,156.7 L616.6,150.2 L607.0,150.2 L607.0,147.0 L594.1,147.0 L594.1,143.8Z" fill="#3b97f5"/><polygon points="268.8,158.7 281.8,158.7 281.8,161.4 268.8,161.4" fill="#3e8ef7"/><polygon points="285.5,158.7 288.7,158.7 288.7,161.4 285.5,161.4" fill="#3e8ef7"/><polygon points="318.0,592.3 320.7,592.3 320.7,596.8 318.0,596.8" fill="#4189f6"/>
<g stroke="#b3b3b3" stroke-width="1.7" stroke-dasharray="2 2.4"><line x1="360.9" y1="122.4" x2="360.9" y2="829.3"/><line x1="618.2" y1="122.4" x2="618.2" y2="829.3"/><line x1="875.6" y1="122.4" x2="875.6" y2="829.3"/><line x1="1132.9" y1="122.4" x2="1132.9" y2="829.3"/><line x1="103.5" y1="765.2" x2="1261.7" y2="765.2"/><line x1="103.5" y1="636.8" x2="1261.7" y2="636.8"/><line x1="103.5" y1="508.3" x2="1261.7" y2="508.3"/><line x1="103.5" y1="379.9" x2="1261.7" y2="379.9"/><line x1="103.5" y1="251.4" x2="1261.7" y2="251.4"/></g>
<g fill="none" stroke="#5e5e5e" stroke-width="1.25" stroke-linejoin="round"><polyline points="165.9,122.0 165.9,134.5"/><polyline points="104.0,174.4 147.7,174.4"/><polyline points="140.2,135.7 141.4,143.2 143.9,152.0 144.4,159.4 146.4,166.9 148.4,173.2 143.9,178.2 148.9,181.9 148.9,205.6"/><polyline points="104.0,212.4 114.0,211.9 126.5,212.4 131.5,214.9 141.4,214.9 148.4,217.4"/><polyline points="148.9,205.6 148.4,209.4 150.2,216.9 152.7,220.6 155.2,226.9 157.7,238.1 160.2,243.8 165.2,249.3 169.4,254.3 172.7,266.3 173.4,288.8 174.4,296.8 174.9,301.8"/><polyline points="104.0,250.6 165.9,250.6"/><polyline points="104.0,288.8 173.4,288.8"/><polyline points="148.9,205.6 216.3,205.6"/><polyline points="233.8,148.2 227.6,166.9 241.3,170.2 256.3,174.4 260.0,180.7 263.8,184.4 269.3,181.4 280.0,183.2 273.8,189.4 270.0,199.4 268.8,209.4 269.3,218.1 268.8,227.4"/><polyline points="232.1,156.7 226.3,157.0 211.4,159.4 203.9,163.9 202.6,171.9 195.9,175.7 196.4,186.9 203.9,194.4 213.8,200.6 217.6,206.9 218.3,213.1 223.8,219.4 230.1,224.4 227.6,229.4 221.3,234.3 218.8,239.3 213.8,244.3 217.6,254.3 221.3,261.8 227.6,266.8 233.8,275.5 238.8,281.8 241.3,288.0 243.3,289.8"/><polyline points="223.8,218.9 268.8,218.9"/><polyline points="158.9,243.6 213.1,243.6"/><polyline points="263.8,228.1 298.7,228.1 319.2,227.4"/><polyline points="263.8,228.1 263.8,269.3 257.5,278.0"/><polyline points="299.2,228.1 299.2,265.6"/><polyline points="243.3,289.8 251.3,285.5 257.5,278.0 266.3,277.3 278.8,274.3 288.7,269.3 296.2,265.6 303.7,264.3 313.7,268.1 320.2,267.6"/><polyline points="173.9,295.5 231.3,295.5 231.8,301.8 236.3,301.8"/><polyline points="243.3,289.8 240.1,294.3 237.6,296.8 236.3,301.8 232.6,309.2 230.1,314.7"/><polyline points="236.3,294.3 258.8,293.8 315.0,294.3 413.6,294.8"/><polyline points="338.7,295.5 328.7,298.0 318.7,304.3 311.2,309.2 305.7,314.2"/><polyline points="501.0,155.7 510.4,152.0 511.0,148.2 523.0,147.6"/><polyline points="366.8,122.0 366.8,154.5 371.2,161.9 377.4,168.2 389.9,170.7 396.2,174.4 401.2,175.1 404.9,179.4 413.6,180.7 429.9,178.2 433.0,179.4 433.0,183.2"/><polyline points="446.7,186.3 446.1,196.9 447.4,206.9 447.4,215.0 444.9,225.6 444.2,236.8"/><polyline points="471.7,186.3 469.8,189.4 463.6,195.6 459.8,204.4 456.7,215.0"/><polyline points="475.4,183.2 476.7,196.9 478.6,211.9 479.2,213.7"/><polyline points="448.0,215.0 472.3,215.4 479.2,213.7"/><polyline points="445.5,224.4 472.3,225.0 474.2,229.4"/><polyline points="467.1,225.0 466.7,233.1"/><polyline points="364.3,218.7 364.3,225.0 421.1,225.0 427.4,231.8 439.9,237.5"/><polyline points="427.4,231.8 423.6,239.3 422.4,243.0"/><polyline points="354.4,221.9 354.4,243.0"/><polyline points="499.9,155.0 503.1,156.8 510.6,155.6 511.2,149.3 513.7,148.1 523.7,149.3 531.2,147.5"/><polyline points="380.0,294.9 413.7,294.9"/><polyline points="421.2,225.0 424.9,230.0 427.4,233.7 423.1,238.7 423.7,247.4 428.1,249.9"/><polyline points="104.0,322.5 114.0,323.7 129.0,327.5 141.4,330.0 153.9,329.5 168.9,331.2 178.9,333.7 180.1,339.9 181.4,353.7 186.4,364.9 185.1,379.9"/><polyline points="180.1,339.9 217.6,339.9"/><polyline points="228.8,315.0 221.3,325.0 217.6,332.5 219.3,349.9 211.4,366.2 235.1,366.9 238.8,374.9"/><polyline points="228.8,315.0 318.7,315.0"/><polyline points="256.8,315.0 252.5,373.6"/><polyline points="288.7,316.2 297.5,349.9 296.2,367.4 333.7,371.2 333.7,374.9"/><polyline points="262.5,366.9 296.2,366.9"/><polyline points="318.7,316.2 336.2,332.5 346.2,349.9 348.7,353.7"/><polyline points="318.7,315.0 348.7,312.5 351.2,317.5 378.6,330.0"/><polyline points="173.9,300.0 175.2,332.5 178.9,333.7"/><polyline points="573.4,737.3 582.1,742.3 587.1,757.3 587.1,774.7 597.1,783.5 602.1,774.7 609.6,776.0 614.6,764.8 632.0,762.3"/><polyline points="632.0,749.8 633.3,764.8"/><polyline points="631.2,748.5 632.5,762.3 615.0,762.3 610.0,774.8 600.0,772.3"/><polyline points="632.5,762.3 635.0,774.8 662.4,793.5 649.9,829.2"/><polyline points="686.1,734.8 687.4,742.3 699.9,749.8 707.4,762.3 717.3,779.8 722.3,779.8"/><polyline points="797.2,779.8 792.2,799.7 782.3,817.2 769.8,829.2"/><polyline points="852.2,802.2 839.7,812.2 837.2,829.2"/><polyline points="858.4,802.2 859.6,814.7 860.9,829.2"/><polyline points="354.3,229.2 354.3,254.3 415.7,254.3 415.7,270.4 424.8,270.4"/><polyline points="353.0,243.2 351.4,249.8 348.1,254.8 342.3,258.5 336.5,263.0 334.9,265.5 331.6,268.0 328.3,271.3 327.0,274.6 329.9,278.7 334.9,282.0 339.8,286.5 343.9,284.9 349.7,284.1 356.3,282.8 358.0,279.5 362.9,274.6 366.2,268.8 369.5,270.4 373.6,265.5 377.8,263.8 381.1,260.9 381.9,257.2 385.2,256.4 388.5,258.9 389.3,261.4 391.8,259.7 399.2,265.1"/><polyline points="367.5,254.3 367.5,260.5 376.1,256.4 379.4,255.2 385.2,256.4"/><polyline points="320.0,267.6 323.3,267.1 328.3,271.3"/><polyline points="320.0,292.7 328.3,287.8 334.9,282.8"/></g><g fill="none" stroke="#111" stroke-width="1.9" stroke-linejoin="round"><polyline points="104.0,134.5 165.9,134.5 167.9,130.0 170.4,131.0 171.9,137.5 178.9,139.0 211.4,146.2 221.3,145.0 238.8,147.7 253.3,144.0 296.2,160.7 301.2,166.9 307.5,167.4 316.2,174.4 328.7,181.9 333.7,204.4 321.2,223.1 323.7,228.1 328.7,229.4 341.2,224.4"/><polyline points="340.0,225.0 358.7,219.4 375.0,214.4 371.8,205.6 377.4,203.8 402.4,203.8 406.2,198.1 427.4,186.3 469.8,186.3 471.7,183.2 479.8,181.9 484.8,176.9 488.5,168.2 491.0,163.2 499.8,155.1 503.5,157.6 512.3,155.7 517.3,159.4 518.5,176.9 523.0,180.7"/><polyline points="499.9,154.3 517.4,158.1 518.7,176.2 528.0,184.3"/><polyline points="104.0,405.9 110.0,409.8 116.0,425.8 124.2,429.8 140.2,432.6"/><polyline points="467.4,509.3 466.2,519.9 464.3,524.9 467.4,533.6"/><polyline points="218.8,536.2 242.6,536.2 242.6,561.1"/><polyline points="218.8,536.2 213.8,543.6 226.3,549.9 226.3,557.4 208.9,558.6 203.9,569.9 203.9,577.4"/><polyline points="242.6,536.2 248.8,529.9 255.0,527.4"/><polyline points="242.6,561.1 246.3,567.4 242.6,572.4 243.8,579.8 231.3,587.3"/><polyline points="243.8,579.8 253.8,584.8 260.0,587.3 262.5,594.8"/><polyline points="262.5,596.1 266.3,594.8 273.8,592.3 276.3,587.3 283.8,584.8 296.2,577.4 298.7,574.9 318.7,571.1"/><polyline points="283.8,622.3 293.7,623.5 303.7,623.5 312.5,626.0"/><polyline points="323.7,642.3 322.5,654.7 323.7,662.2"/><polyline points="382.4,662.4 386.1,664.9 394.9,663.6 396.1,656.2"/><polyline points="464.8,616.2 456.0,626.2 449.8,639.9 447.3,647.4 452.3,652.4 459.8,669.9 464.8,674.9 487.2,674.9 498.5,686.1 519.7,684.9 523.4,687.4 518.5,702.3 519.7,717.3 523.4,724.8 518.5,728.6 525.9,739.8 528.4,749.8 537.2,754.8 547.2,753.5 549.7,751.0 562.1,746.0 574.6,737.3 560.9,731.1 562.1,714.8 557.1,712.3 577.1,716.1 609.6,703.6 614.6,699.8"/><polyline points="610.8,657.4 613.3,672.4 604.6,678.6 599.6,689.9 610.8,699.8 618.3,702.3 624.6,717.3"/><polyline points="492.2,742.3 519.7,742.3 524.7,739.8"/><polyline points="492.2,742.3 493.5,749.8 499.7,752.3 499.7,756.0 489.7,757.3 488.5,764.8 496.0,774.7 497.2,782.2 493.5,814.7 492.2,819.7"/><polyline points="374.9,747.3 389.9,754.8 394.9,759.8 407.4,759.8 419.8,766.0 422.3,776.0 414.8,789.7 402.4,799.7 387.4,803.5 379.9,812.2 371.2,828.4"/><polyline points="422.3,766.0 434.8,776.0 449.8,794.7 459.8,796.0 474.8,794.7 486.0,798.5 489.7,802.2 479.8,814.7 492.2,819.7"/><polyline points="492.2,819.7 474.8,822.2 459.8,828.4"/><polyline points="354.9,814.7 359.9,822.2 371.2,828.4"/><polyline points="654.9,689.9 653.7,698.6 644.9,704.9 643.7,712.3 653.7,722.3 662.4,741.1"/><polyline points="696.1,692.4 689.9,702.4 694.9,717.3 691.1,734.8"/><polyline points="724.8,711.1 714.8,732.3 703.6,738.6 699.9,734.8 691.1,736.1 686.1,733.6 669.9,733.6 668.7,741.1 653.7,741.1 637.4,747.3 631.2,748.5 623.7,741.1 620.0,727.3 623.7,714.8 618.7,707.4 616.2,698.6"/><polyline points="1261.0,419.9 1254.1,418.1 1243.5,419.3 1239.2,429.9 1234.8,431.2 1229.2,446.8 1211.7,459.9 1207.3,477.4 1201.1,483.6 1200.5,489.8"/><polyline points="1235.4,431.2 1261.0,431.8"/><polyline points="1236.0,432.4 1237.3,464.9 1224.2,465.5 1221.1,472.4 1224.2,489.8"/><polyline points="1171.1,490.6 1224.2,491.2 1221.7,480.0"/><polyline points="1178.0,557.4 1183.6,554.3 1189.8,554.9 1197.3,551.8 1203.0,551.8 1217.3,558.6 1233.5,576.7 1239.8,567.4 1253.5,571.1 1261.0,568.0"/><polyline points="1233.5,576.7 1236.0,588.6 1242.3,596.1"/><polyline points="1175.5,604.4 1189.8,602.5 1219.8,603.1 1229.8,606.2 1241.0,605.6 1242.3,610.0 1247.3,608.1 1254.8,612.5 1261.0,611.8"/><polyline points="1242.3,605.6 1242.3,597.5 1236.0,591.9 1235.4,590.0"/><polyline points="1196.1,622.5 1199.8,617.5 1212.3,614.3 1213.6,605.0"/><polyline points="1219.8,649.9 1228.5,641.2 1236.0,636.2 1247.3,636.2 1252.3,642.4 1256.0,658.0 1261.0,656.2"/><polyline points="1256.0,658.0 1246.0,671.1 1242.3,678.0"/></g><g fill="none" stroke="#000" stroke-width="2.2" stroke-linejoin="round"><polyline points="1261.0,385.6 1257.3,388.7 1251.0,392.5 1246.0,396.2 1239.8,403.1 1228.5,403.7 1221.1,409.3 1213.6,422.4 1204.8,427.4 1199.8,434.9 1199.2,442.4 1196.1,449.3 1191.1,452.4 1183.6,459.9 1179.9,468.6 1179.9,474.9 1176.1,480.5 1171.1,483.6 1171.1,489.8 1169.9,495.0 1174.9,498.7 1179.9,505.0 1180.5,512.5 1182.4,521.2 1183.0,532.4 1181.1,544.9 1177.4,551.2 1178.0,557.4 1173.6,566.1 1167.4,573.6 1163.0,576.1 1168.6,579.9 1173.6,587.4 1175.5,591.1 1173.6,596.1 1174.9,607.5 1179.9,612.5 1182.4,616.8 1188.6,619.3 1197.3,624.3 1201.1,628.7 1203.6,634.9 1212.3,641.2 1219.8,649.9 1221.1,659.9 1223.6,666.1 1229.8,672.4 1242.3,678.0 1251.0,686.1 1261.0,692.4"/><polyline points="529.9,123.1 524.9,127.5 508.7,132.5 497.4,141.2 485.0,151.2 475.0,162.4 485.0,159.9 507.4,142.5 533.6,132.5 553.6,131.2 565.5,138.1 552.4,146.2 557.4,161.2 559.9,167.4 577.3,176.8 598.6,175.5 611.7,160.6 612.9,168.7 621.7,174.3 603.6,182.4 584.8,187.4 568.6,193.6 557.4,199.9 549.3,205.5 539.9,204.9 538.6,192.4 561.1,182.4 527.4,184.3 529.3,188.7 513.7,194.9 487.5,203.0 480.0,211.1 478.7,218.6 485.0,223.6 490.0,226.1 488.7,229.8 478.7,231.1 460.0,237.3 452.3,235.0 441.1,238.7 439.3,240.6 435.5,243.7 438.7,246.2 435.5,254.9 426.8,263.7 418.7,257.4 421.2,261.8 425.6,266.8 423.7,271.2 417.4,278.0 411.8,286.1 417.4,281.2 410.0,273.7 409.3,264.9 407.5,262.4 408.1,272.4 408.7,284.9 411.2,289.9 416.2,296.1 416.1,307.5 408.6,317.5 396.1,322.5 386.1,327.5 378.6,330.0 373.6,336.2 361.1,343.7 348.7,352.4 342.4,362.4 342.4,374.9 346.2,387.4 353.7,399.9 354.9,406.2 359.9,417.5 360.5,428.7 357.4,438.7 351.2,442.4 346.2,441.2 343.7,436.2 338.7,433.1 327.4,413.7 323.7,406.9 325.0,400.0 318.7,387.4 308.7,378.6 301.2,379.9 295.0,383.6 288.7,377.4 278.8,374.1 253.8,374.4 240.1,377.4 241.3,386.1 238.8,389.9 233.8,388.6 223.8,391.1 213.8,384.9 198.9,384.9 189.9,382.4 171.2,385.6 160.4,394.4 148.2,399.1 141.4,404.4 137.5,411.1 137.0,420.6 139.0,428.6 140.9,432.6 136.2,444.8 133.0,455.3 132.0,470.0 131.5,477.3 137.7,494.7 148.9,512.2 156.4,522.2 176.4,530.9 191.4,527.2 211.4,522.2 223.8,514.7 226.3,499.7 233.8,492.2 251.3,488.5 271.3,487.7 273.8,497.2 266.3,507.2 263.8,517.2 258.8,529.7 255.0,542.4 253.3,556.1 247.6,560.4 256.3,562.4 278.8,559.4 296.2,558.6 311.2,564.9 320.0,571.1 318.7,582.3 317.5,592.3 316.2,599.8 315.0,609.8 312.5,619.8 316.2,629.8 328.7,642.3 333.7,647.3 343.7,652.3 353.7,648.5 366.1,642.3 378.6,644.8 386.1,649.8 396.1,654.7 401.1,653.7 409.8,646.2 416.1,642.4 417.3,629.9 426.1,622.0 434.8,622.0 436.1,619.5 444.8,620.0 459.8,611.2 467.3,605.5 473.5,607.0 474.8,610.0 472.3,613.7 466.0,615.0 465.3,619.5 469.8,625.0 476.0,623.7 486.0,620.0 487.2,611.2 491.0,609.5 497.2,617.0 504.7,618.7 513.5,628.7 537.2,628.7 554.7,635.4 562.1,628.7 594.6,627.4 584.6,631.2 585.9,634.9 598.3,637.4 607.1,646.2 610.8,654.9 619.6,657.4 632.0,667.4 639.5,677.4 654.5,688.6 671.2,689.9 682.4,687.4 709.8,694.9 724.8,706.1 729.8,712.3 739.8,741.1 747.3,743.6 747.3,752.3 738.6,764.8 742.3,766.8 764.8,768.5 764.8,781.0 774.8,772.3 812.2,784.7 818.5,792.2 817.2,799.7 832.2,796.0 857.1,802.2 875.9,801.7 894.6,813.5 912.1,827.7 918.3,830.9"/><polyline points="342.4,829.7 347.4,817.2 359.9,807.2 362.4,797.2 349.9,794.7 348.7,779.7 352.4,776.0 358.7,754.8 374.9,747.3 379.9,733.6 394.9,717.3 396.1,712.3 392.9,697.4 394.9,684.9 389.9,672.4 383.6,664.9 381.1,658.7 374.9,649.9 367.4,646.2 359.9,649.9 356.2,658.7 359.9,667.4 351.2,672.4 346.2,664.9 338.7,659.9 325.0,658.7 313.7,654.9 311.2,647.4 300.0,634.9 296.2,642.3 291.2,634.8 287.5,629.8 283.8,622.3 276.3,614.8 263.8,599.8 261.3,596.1 248.8,594.8 233.8,589.8 216.3,584.8 203.9,577.4 191.4,567.4 178.9,559.9 168.9,556.1 153.9,562.4 146.4,563.6 129.0,557.4 114.0,552.4 104.0,549.9"/><polyline points="436.1,243.0 443.6,236.8 458.6,235.0 464.8,233.1 462.3,238.1 452.3,240.0 441.1,240.6"/><polygon points="561.1,123.1 572.3,128.7 584.8,132.5 595.4,133.1 594.8,130.0 579.8,125.0 568.6,123.1 561.1,123.1"/><polygon points="561.7,163.1 566.1,160.6 569.8,164.9 577.3,167.4 592.3,167.4 587.3,171.2 578.6,172.4 564.9,168.7 561.7,164.9"/><polygon points="644.9,121.7 639.9,131.7 632.5,136.7 627.5,141.1 633.1,144.2 625.6,149.2 628.1,152.3 652.4,154.2 666.2,152.3 677.4,156.1 669.9,161.7 677.4,162.3 692.4,151.1 695.5,152.3 693.0,162.9 699.9,166.1 707.4,165.4 713.0,153.6 707.4,138.6 698.6,141.1 703.0,131.1 689.9,127.4 684.9,130.5 672.4,126.7 675.5,121.7"/><polyline points="399.3,273.0 408.7,277.4"/><polyline points="441.2,239.0 449.9,235.6 461.1,235.0 464.9,238.1 454.9,241.2 442.4,241.2 438.7,242.5"/><polygon points="382.4,528.4 391.1,525.9 403.6,528.4 409.8,534.7 398.6,535.9 388.6,533.4"/><polygon points="296.2,483.6 302.5,479.9 306.2,474.3 318.7,468.7 332.4,466.8 352.4,468.0 364.9,472.4 371.1,476.8 382.4,475.5 406.1,492.4 417.3,494.2 418.6,497.4 427.3,499.2 436.1,503.6 435.4,506.7 414.8,509.8 399.8,509.2 389.9,510.5 396.1,503.6 391.1,499.9 384.9,498.6 379.9,494.9 377.4,488.0 371.1,487.4 356.2,483.6 352.4,481.1 337.4,479.3 333.1,478.0 337.4,474.9 326.2,473.0 316.2,479.9 310.0,481.1 307.5,484.3 301.2,485.5"/><polygon points="373.6,420.6 381.1,419.3 389.9,419.3 391.1,417.5 399.8,422.5 398.0,432.5 394.9,430.0 394.9,423.7 391.1,421.2 388.6,423.1 374.9,425.6"/><polygon points="382.4,442.4 386.1,440.6 389.2,441.2 393.0,451.2 393.0,460.5 389.9,461.2 386.1,453.7 381.1,448.7"/><polygon points="445.6,512.4 447.5,509.3 457.4,508.7 467.4,509.3 472.4,508.1 479.9,509.3 489.9,512.4 492.4,516.2 499.9,516.8 501.1,519.9 507.4,521.2 511.7,525.5 507.4,531.2 502.4,528.0 494.9,527.4 487.4,529.3 484.9,531.2 481.2,528.7 477.4,529.9 474.9,534.9 471.2,538.6 467.4,533.6 464.9,529.9 457.4,531.2 450.0,531.2 439.3,533.6 431.9,528.7 433.7,524.9 448.7,526.8 458.7,524.9 453.7,518.7 452.5,513.7"/><polygon points="524.9,527.4 532.3,526.2 542.3,527.4 546.7,530.5 543.6,534.3 532.3,534.9 525.5,534.9"/><polygon points="464.8,621.2 469.8,623.7 473.5,628.7 471.0,634.9 477.3,639.9 474.8,647.4 468.5,648.7 463.5,639.9 467.3,633.7 468.5,627.4"/><polygon points="595.8,627.4 605.8,625.0 607.1,634.9 594.6,636.2 590.9,633.7"/><polygon points="1175.5,589.8 1192.3,588.6 1196.1,587.4 1203.6,589.8 1209.8,588.0 1211.7,591.1 1206.1,594.2 1197.3,591.7 1184.9,596.7 1174.9,596.1"/></g>
</g>
<rect x="104" y="122.2" width="1157.8" height="707.6" fill="none" stroke="#000" stroke-width="2.2"/>
<text x="334.40" y="100.2" font-size="35.3" fill="#000" textLength="239.76" lengthAdjust="spacingAndGlyphs">Pangu-ECMWF</text><text x="587.00" y="100.2" font-size="35.3" fill="#000" textLength="13.00" lengthAdjust="spacingAndGlyphs">–</text><text x="611.60" y="100.2" font-size="35.3" fill="#000" textLength="64.74" lengthAdjust="spacingAndGlyphs">Day</text><text x="689.20" y="100.2" font-size="35.3" fill="#000" textLength="19.92" lengthAdjust="spacingAndGlyphs">9</text><text x="720.40" y="100.2" font-size="35.3" fill="#000" textLength="88.83" lengthAdjust="spacingAndGlyphs">(10m</text><text x="820.90" y="100.2" font-size="35.3" fill="#000" textLength="82.96" lengthAdjust="spacingAndGlyphs">Wind</text><text x="912.80" y="100.2" font-size="35.3" fill="#000" textLength="119.32" lengthAdjust="spacingAndGlyphs">Speed)</text><text transform="translate(1440.3,0) rotate(-90)" x="-668.10" y="0.0" font-size="30" fill="#000" textLength="58.93" lengthAdjust="spacingAndGlyphs">10m</text><text transform="translate(1440.3,0) rotate(-90)" x="-598.40" y="0.0" font-size="30" fill="#000" textLength="70.48" lengthAdjust="spacingAndGlyphs">Wind</text><text transform="translate(1440.3,0) rotate(-90)" x="-519.70" y="0.0" font-size="30" fill="#000" textLength="86.91" lengthAdjust="spacingAndGlyphs">Speed</text><text transform="translate(1440.3,0) rotate(-90)" x="-422.90" y="0.0" font-size="30" fill="#000" textLength="96.87" lengthAdjust="spacingAndGlyphs">(knots)</text><text x="347.50" y="905.1" font-size="26.4" fill="#333" textLength="62.27" lengthAdjust="spacingAndGlyphs">Max:</text><text x="416.80" y="905.1" font-size="26.4" fill="#333" textLength="29.39" lengthAdjust="spacingAndGlyphs">31</text><text x="455.00" y="905.1" font-size="26.4" fill="#333" textLength="23.78" lengthAdjust="spacingAndGlyphs">kt</text><text x="486.60" y="905.1" font-size="26.4" fill="#333" textLength="27.98" lengthAdjust="spacingAndGlyphs">@</text><text x="521.20" y="905.1" font-size="26.4" fill="#333" textLength="95.38" lengthAdjust="spacingAndGlyphs">45.5°N,</text><text x="622.90" y="905.1" font-size="26.4" fill="#333" textLength="92.54" lengthAdjust="spacingAndGlyphs">10.2°W</text><text x="726.10" y="905.1" font-size="26.4" fill="#333" textLength="10.98" lengthAdjust="spacingAndGlyphs">•</text><text x="748.00" y="905.1" font-size="26.4" fill="#333" textLength="60.56" lengthAdjust="spacingAndGlyphs">Valid</text><text x="814.30" y="905.1" font-size="26.4" fill="#333" textLength="146.66" lengthAdjust="spacingAndGlyphs">2025-12-03</text><text x="969.00" y="905.1" font-size="26.4" fill="#333" textLength="47.85" lengthAdjust="spacingAndGlyphs">00Z</text>
<g font-size="30.9" fill="#000"><text x="88.2" y="258.7" text-anchor="end" textLength="67.8" lengthAdjust="spacingAndGlyphs">40°N</text><text x="88.2" y="387.2" text-anchor="end" textLength="67.8" lengthAdjust="spacingAndGlyphs">30°N</text><text x="88.2" y="515.6" text-anchor="end" textLength="67.8" lengthAdjust="spacingAndGlyphs">20°N</text><text x="88.2" y="644.0" text-anchor="end" textLength="67.8" lengthAdjust="spacingAndGlyphs">10°N</text><text x="88.2" y="772.5" text-anchor="end" textLength="27.8" lengthAdjust="spacingAndGlyphs">0°</text></g><g font-size="30.3" fill="#000"><text x="361.4" y="865.6" text-anchor="middle" textLength="73.1" lengthAdjust="spacingAndGlyphs">80°W</text><text x="618.7" y="865.6" text-anchor="middle" textLength="73.1" lengthAdjust="spacingAndGlyphs">60°W</text><text x="876.1" y="865.6" text-anchor="middle" textLength="73.1" lengthAdjust="spacingAndGlyphs">40°W</text><text x="1133.4" y="865.6" text-anchor="middle" textLength="73.1" lengthAdjust="spacingAndGlyphs">20°W</text></g>

<path d="M1289.5,931.9 L1289.5,62.9 L1312.2,19.4 L1335,62.9 L1335,931.9 Z" fill="url(#cb)" stroke="#000" stroke-width="1.8"/>
<g stroke="#000" stroke-width="1.8"><line x1="1335" y1="931.9" x2="1345" y2="931.9"/><line x1="1335" y1="710.7" x2="1345" y2="710.7"/><line x1="1335" y1="532.5" x2="1345" y2="532.5"/><line x1="1335" y1="368.8" x2="1345" y2="368.8"/><line x1="1335" y1="213.0" x2="1345" y2="213.0"/><line x1="1335" y1="62.9" x2="1345" y2="62.9"/></g>
<g font-size="30.8"><text x="1355.2" y="943.1" textLength="33.6" lengthAdjust="spacingAndGlyphs">20</text><text x="1355.2" y="721.9" textLength="33.6" lengthAdjust="spacingAndGlyphs">40</text><text x="1355.2" y="543.7" textLength="33.6" lengthAdjust="spacingAndGlyphs">60</text><text x="1355.2" y="380.0" textLength="33.6" lengthAdjust="spacingAndGlyphs">80</text><text x="1355.2" y="224.2" textLength="52.0" lengthAdjust="spacingAndGlyphs">100</text><text x="1355.2" y="74.1" textLength="52.0" lengthAdjust="spacingAndGlyphs">120</text></g>

</svg>
</body></html>
